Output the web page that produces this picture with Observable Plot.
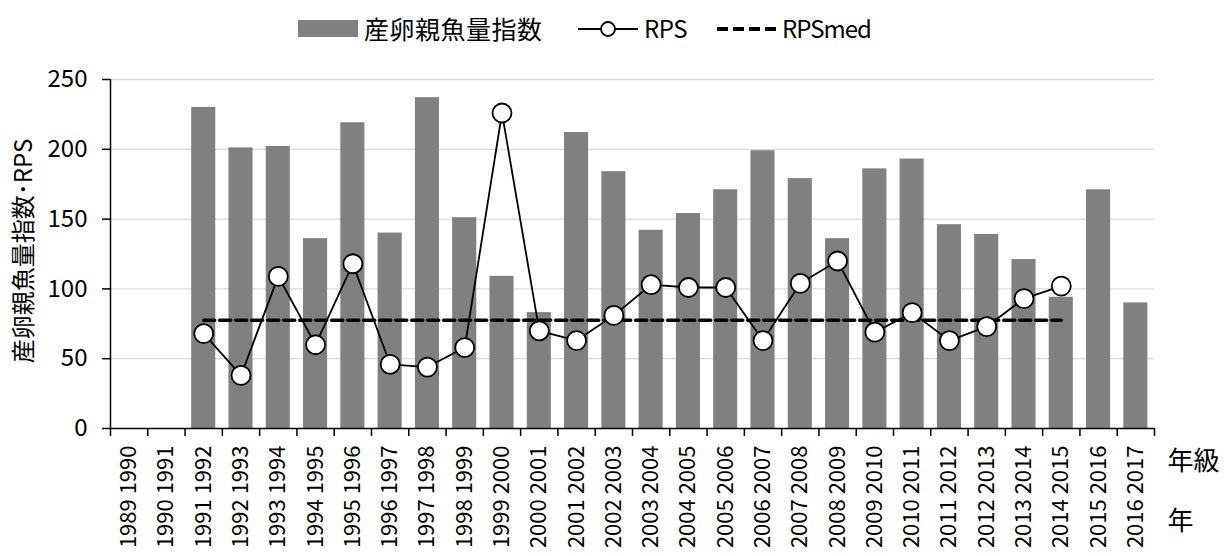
<!DOCTYPE html>
<html>
<head>
<meta charset="utf-8">
<script src="https://cdn.jsdelivr.net/npm/d3@7"></script>
<script src="https://cdn.jsdelivr.net/npm/@observablehq/plot@0.6"></script>
<style>
  html, body { margin: 0; padding: 0; background: white; }
  body { width: 1224px; height: 556px; overflow: hidden; font-family: "Noto Sans CJK JP", sans-serif; }
  #legend { position: relative; width: 1224px; height: 60px; }
  #legend .it { position: absolute; font-size: 24px; line-height: 24px; top: 16px; color: #000; }
  #legend svg { position: absolute; top: 0; }
</style>
</head>
<body>
<div id="legend">
  <svg width="1224" height="60" style="left:0">
    <rect x="298" y="20" width="60" height="17" fill="#808080"></rect>
    <line x1="578" y1="29" x2="638" y2="29" stroke="#000" stroke-width="1.8"></line>
    <circle cx="608" cy="29" r="7" fill="#fff" stroke="#000" stroke-width="1.8"></circle>
    <line x1="717" y1="29" x2="779" y2="29" stroke="#000" stroke-width="4" stroke-dasharray="11,5"></line>
  </svg>
  <span class="it" style="left:364px;font-size:25px;letter-spacing:0.5px">産卵親魚量指数</span>
  <span class="it" style="left:644px;letter-spacing:-0.5px">RPS</span>
  <span class="it" style="left:782px;letter-spacing:-1px">RPSmed</span>
</div>
<div id="chart"></div>
<script>
// Tick labels: lower row (年) and upper row (年級)
const yearsLower = [1989,1990,1991,1992,1993,1994,1995,1996,1997,1998,1999,2000,2001,2002,2003,2004,2005,2006,2007,2008,2009,2010,2011,2012,2013,2014,2015,2016];
const yearsUpper = [1990,1991,1992,1993,1994,1995,1996,1997,1998,1999,2000,2001,2002,2003,2004,2005,2006,2007,2008,2009,2010,2011,2012,2013,2014,2015,2016,2017];

// 産卵親魚量指数 (bars), one per category; null = no bar
const spawnIndex = [null,null,230,201,202,136,219,140,237,151,109,83,212,184,142,154,171,199,179,136,186,193,146,139,121,94,171,90];

// RPS values, one per category; null = no point
const rps = [null,null,68,38,109,60,118,46,44,58,226,70,63,81,103,101,101,63,104,120,69,83,63,73,93,102,null,null];

// RPS median
const rpsMed = 77.5;

const yTicks = [0,50,100,150,200,250];

const cats = yearsLower.map((y, i) => ({i, lower: y, upper: yearsUpper[i]}));
const bars = spawnIndex.map((v, i) => ({i, v})).filter(d => d.v != null);
const rpsData = rps.map((v, i) => ({i, v})).filter(d => d.v != null);
const medData = rpsData.map(d => ({i: d.i, v: rpsMed}));

const chart = Plot.plot({
  width: 1224,
  height: 496,
  marginTop: 19,
  marginBottom: 128,
  marginLeft: 110,
  marginRight: 70,
  style: {fontFamily: "'Noto Sans CJK JP', sans-serif", fontSize: "24px", color: "#000", background: "white"},
  x: {type: "linear", domain: [0, cats.length], axis: null},
  y: {domain: [0, 250], axis: null},
  marks: [
    Plot.gridY(yTicks.filter(t => t > 0), {stroke: "#d9d9d9", strokeOpacity: 1, strokeWidth: 1.3}),
    Plot.rectY(bars, {x: "i", interval: 1, y: "v", fill: "#808080", insetLeft: 6.6, insetRight: 6.6}),
    Plot.ruleX([0], {stroke: "#000", strokeWidth: 1.5}),
    Plot.ruleY([0], {stroke: "#000", strokeWidth: 1.5}),
    Plot.axisY({ticks: yTicks, tickSize: 8, tickPadding: 15, fontSize: 24, label: null, stroke: "#000", strokeWidth: 1.5}),
    Plot.axisX({ticks: d3.range(0, cats.length + 1), tickSize: 8, text: null, label: null, stroke: "#000", strokeWidth: 1.5}),
    Plot.text(cats, {x: d => d.i + 0.5, frameAnchor: "bottom", text: d => `${d.lower} ${d.upper}`, rotate: -90, textAnchor: "end", lineAnchor: "middle", dy: 17, fontSize: 22, fill: "#000"}),
    Plot.text(["年級"], {frameAnchor: "bottom-right", text: d => d, textAnchor: "start", lineAnchor: "middle", dx: 13, dy: 33, fontSize: 26, fill: "#000"}),
    Plot.text(["年"], {frameAnchor: "bottom-right", text: d => d, textAnchor: "start", lineAnchor: "middle", dx: 13, dy: 93, fontSize: 26, fill: "#000"}),
    Plot.text(["産卵親魚量指数･RPS"], {frameAnchor: "left", text: d => d, rotate: -90, textAnchor: "middle", lineAnchor: "middle", dx: -86, dy: -3, fontSize: 24, fill: "#000"}),
    Plot.line(medData, {x: d => d.i + 0.5, y: "v", stroke: "#000", strokeWidth: 3.5, strokeDasharray: "11,5"}),
    Plot.line(rpsData, {x: d => d.i + 0.5, y: "v", stroke: "#000", strokeWidth: 1.8}),
    Plot.dot(rpsData, {x: d => d.i + 0.5, y: "v", r: 9.5, fill: "#fff", stroke: "#000", strokeWidth: 1.8})
  ]
});
document.getElementById("chart").appendChild(chart);
</script>
</body>
</html>
